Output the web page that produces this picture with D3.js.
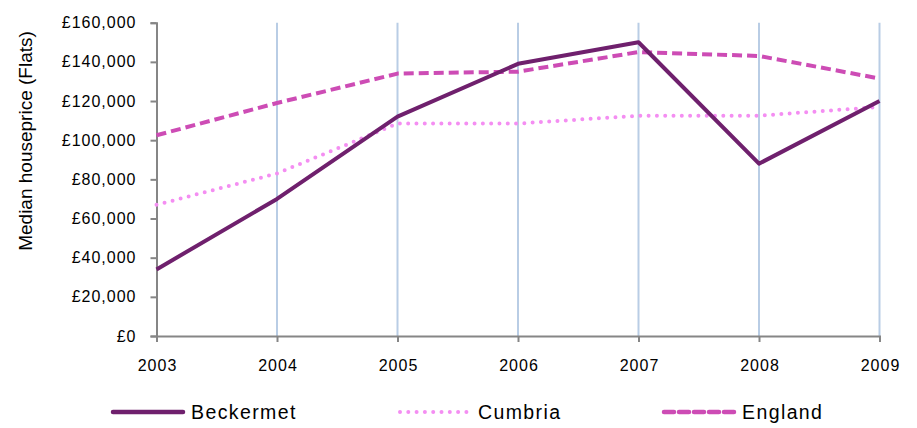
<!DOCTYPE html>
<html><head><meta charset="utf-8">
<script src="https://cdn.jsdelivr.net/npm/d3@7"></script>
<style>body{margin:0;background:#fff}svg{display:block}text{font-family:"Liberation Sans",Arial,sans-serif;fill:#000}</style>
</head><body><svg id="c" width="917" height="428"></svg>
<script>
const years = [2003, 2004, 2005, 2006, 2007, 2008, 2009];
const beckermet = [34000, 70000, 112000, 139000, 150000, 88000, 120000];
const cumbria = [67000, 83000, 108500, 108500, 112500, 112500, 117000];
const england = [102500, 119000, 134000, 135000, 145000, 143000, 131500];
const yTicks = [0, 20000, 40000, 60000, 80000, 100000, 120000, 140000, 160000];
const seriesNames = ["Beckermet", "Cumbria", "England"];

const svg = d3.select("#c");
const x = d3.scaleLinear().domain([2003, 2009]).range([156.5, 879.5]);
const y = d3.scaleLinear().domain([0, 160000]).range([336, 22.7]);

// gridlines
svg.append("g").selectAll("line").data(years.slice(1)).join("line")
  .attr("x1", d => x(d)).attr("x2", d => x(d)).attr("y1", y(160000)).attr("y2", y(0))
  .attr("stroke", "#B9CDE5").attr("stroke-width", 2);

const fmt = d => "£" + d3.format(",")(d);
const yAxis = svg.append("g").attr("transform", `translate(${x(2003)},0)`)
  .call(d3.axisLeft(y).tickValues(yTicks).tickFormat(fmt).tickSize(6).tickPadding(14));
const xAxis = svg.append("g").attr("transform", `translate(0,${y(0)})`)
  .call(d3.axisBottom(x).tickValues(years).tickFormat(d3.format("d")).tickSize(6).tickPadding(18));
[yAxis, xAxis].forEach(g => {
  g.attr("font-size", null).attr("font-family", null);
  g.select(".domain").attr("stroke", "#868686").attr("stroke-width", 2);
  g.selectAll(".tick line").attr("stroke", "#868686").attr("stroke-width", 2);
  g.selectAll("text").style("font-size", "16px").style("letter-spacing", "1px").attr("fill", "#000");
});
xAxis.selectAll("text").attr("dx", "0.5");

svg.append("text").attr("transform", "translate(32,141) rotate(-90)")
  .attr("text-anchor", "middle").style("font-size", "19px").text("Median houseprice (Flats)");

const styles = [
  {data: beckermet, color: "#6F206D", width: 4, dash: null, cap: "butt"},
  {data: cumbria, color: "#F48EF2", width: 4, dash: "0,8.3", cap: "round"},
  {data: england, color: "#CD4CB5", width: 4, dash: "10,5", cap: "butt"}
];
const line = d3.line().x((d, i) => x(years[i])).y(d => y(d));
// draw order: cumbria, england, beckermet
[1, 2, 0].forEach(k => {
  const s = styles[k];
  svg.append("path").attr("d", line(s.data)).attr("fill", "none")
    .attr("stroke", s.color).attr("stroke-width", s.width)
    .attr("stroke-dasharray", s.dash).attr("stroke-linecap", s.cap).attr("stroke-linejoin", "round");
});

// legend
const legX = [113, 400, 664];
seriesNames.forEach((n, k) => {
  const s = styles[k];
  svg.append("line").attr("x1", legX[k]).attr("x2", legX[k] + 70).attr("y1", 412).attr("y2", 412)
    .attr("stroke", s.color).attr("stroke-width", k === 1 ? 4 : 4.5)
    .attr("stroke-dasharray", s.dash).attr("stroke-linecap", "round");
  svg.append("text").attr("x", legX[k] + 78).attr("y", 419).style("font-size", "19.5px")
    .style("letter-spacing", "1.4px").text(n);
});
</script></body></html>
